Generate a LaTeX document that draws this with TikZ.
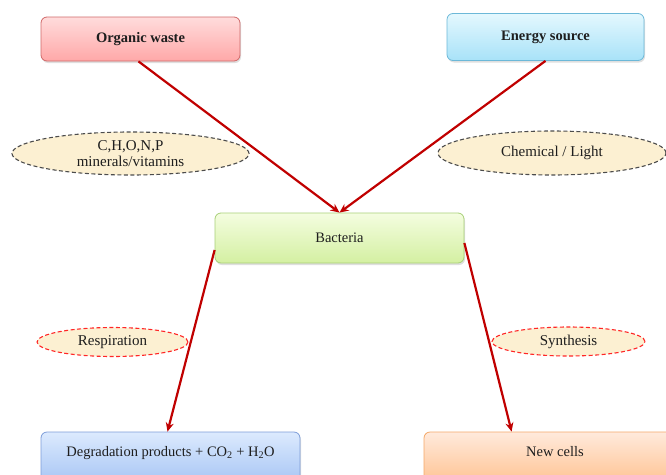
\documentclass[tikz,border=0pt]{standalone}
\usepackage{fontspec}
\setmainfont{Liberation Serif}
\usetikzlibrary{arrows.meta}
\usetikzlibrary{shapes.geometric}
\usetikzlibrary{shadows}
\usepackage{xcolor}
\definecolor{flowred}{HTML}{C00000}
\definecolor{notefill}{HTML}{FCF0D2}
\definecolor{textgrey}{HTML}{1E1E1E}
\definecolor{wasteline}{HTML}{D06868}
\definecolor{wastetop}{HTML}{FFDCDC}
\definecolor{wastebottom}{HTML}{FFA8A8}
\definecolor{energyline}{HTML}{6CB8D8}
\definecolor{energytop}{HTML}{E4F8FE}
\definecolor{energybottom}{HTML}{A8E2F8}
\definecolor{bacline}{HTML}{A8D078}
\definecolor{bactop}{HTML}{F4FDE0}
\definecolor{bacbottom}{HTML}{D4F0A2}
\definecolor{degline}{HTML}{7C9CD8}
\definecolor{degtop}{HTML}{DCEAFE}
\definecolor{degbottom}{HTML}{A8C6F4}
\definecolor{cellline}{HTML}{F4A868}
\definecolor{celltop}{HTML}{FFEADC}
\definecolor{cellbottom}{HTML}{FFC494}
\tikzset{
    stage box/.style={
        rectangle,
        rounded corners=6pt,
        line width=0.8pt,
        text=textgrey,
        font=\fontsize{14.5}{16}\selectfont,
        drop shadow={shadow xshift=1pt, shadow yshift=-2pt, opacity=0.25},
    },
    stage color/.style={
        draw=#1line,
        top color=#1top,
        bottom color=#1bottom,
    },
    note ellipse/.style={
        ellipse,
        dash pattern=on 4pt off 2.5pt,
        line width=1.1pt,
        inner sep=0,
        fill=notefill,
        text=textgrey,
        align=center,
        font=\fontsize{15}{16}\selectfont,
    },
    flow arrow/.style={
        draw=flowred,
        line width=2.2pt,
        -{Stealth[length=9pt,width=8pt]},
    },
}

\begin{document}
\begin{tikzpicture}[x=1pt, y=-1pt]

    \useasboundingbox (0, 0) rectangle (666, 474);
    \clip (0, 0) rectangle (666, 474);

    \node[stage box, stage color=waste,
        minimum width=199pt, minimum height=44pt, font=\fontsize{14.5}{16}\selectfont\bfseries]
        (waste) at (140.5, 39) {Organic waste};
    \node[stage box, stage color=energy,
        minimum width=197pt, minimum height=47pt, font=\fontsize{14.5}{16}\selectfont\bfseries]
        (energy) at (545.5, 37) {Energy source};
    \node[stage box, stage color=bac,
        minimum width=249pt, minimum height=50pt]
        (bacteria) at (339.5, 238) {Bacteria};

    % bottom boxes run off the page
    \node[stage box, stage color=deg,
        minimum width=259pt, minimum height=50pt, text depth=11pt]
        (degrade) at (170.5, 457) {Degradation products + CO\textsubscript{2} + H\textsubscript{2}O};
    \node[stage box, stage color=cell,
        minimum width=262pt, minimum height=50pt, text depth=11pt]
        (cells) at (555, 457) {New cells};

    \node[note ellipse, draw=black!70, minimum width=237pt, minimum height=43pt]
        (nutrients) at (130.5, 153.5) {C,H,O,N,P\\minerals/vitamins};
    \node[note ellipse, draw=black!70, minimum width=228pt, minimum height=44pt]
        (light) at (552, 153) {Chemical / Light};
    \node[note ellipse, draw=red!85, minimum width=151pt, minimum height=29pt]
        (respire) at (112.5, 342) {Respiration};
    \node[note ellipse, draw=red!85, minimum width=153pt, minimum height=29pt]
        (synth) at (568.5, 341.5) {Synthesis};

    \draw[flow arrow] ([xshift=-2pt]waste.south) -- (bacteria.north);
    \draw[flow arrow] (energy.south) -- (bacteria.north);
    \draw[flow arrow] ([yshift=-12pt]bacteria.west) -- ([xshift=-3pt]degrade.north);
    \draw[flow arrow] ([yshift=-5pt]bacteria.east) -- ([xshift=88pt]cells.north west);

\end{tikzpicture}
\end{document}
